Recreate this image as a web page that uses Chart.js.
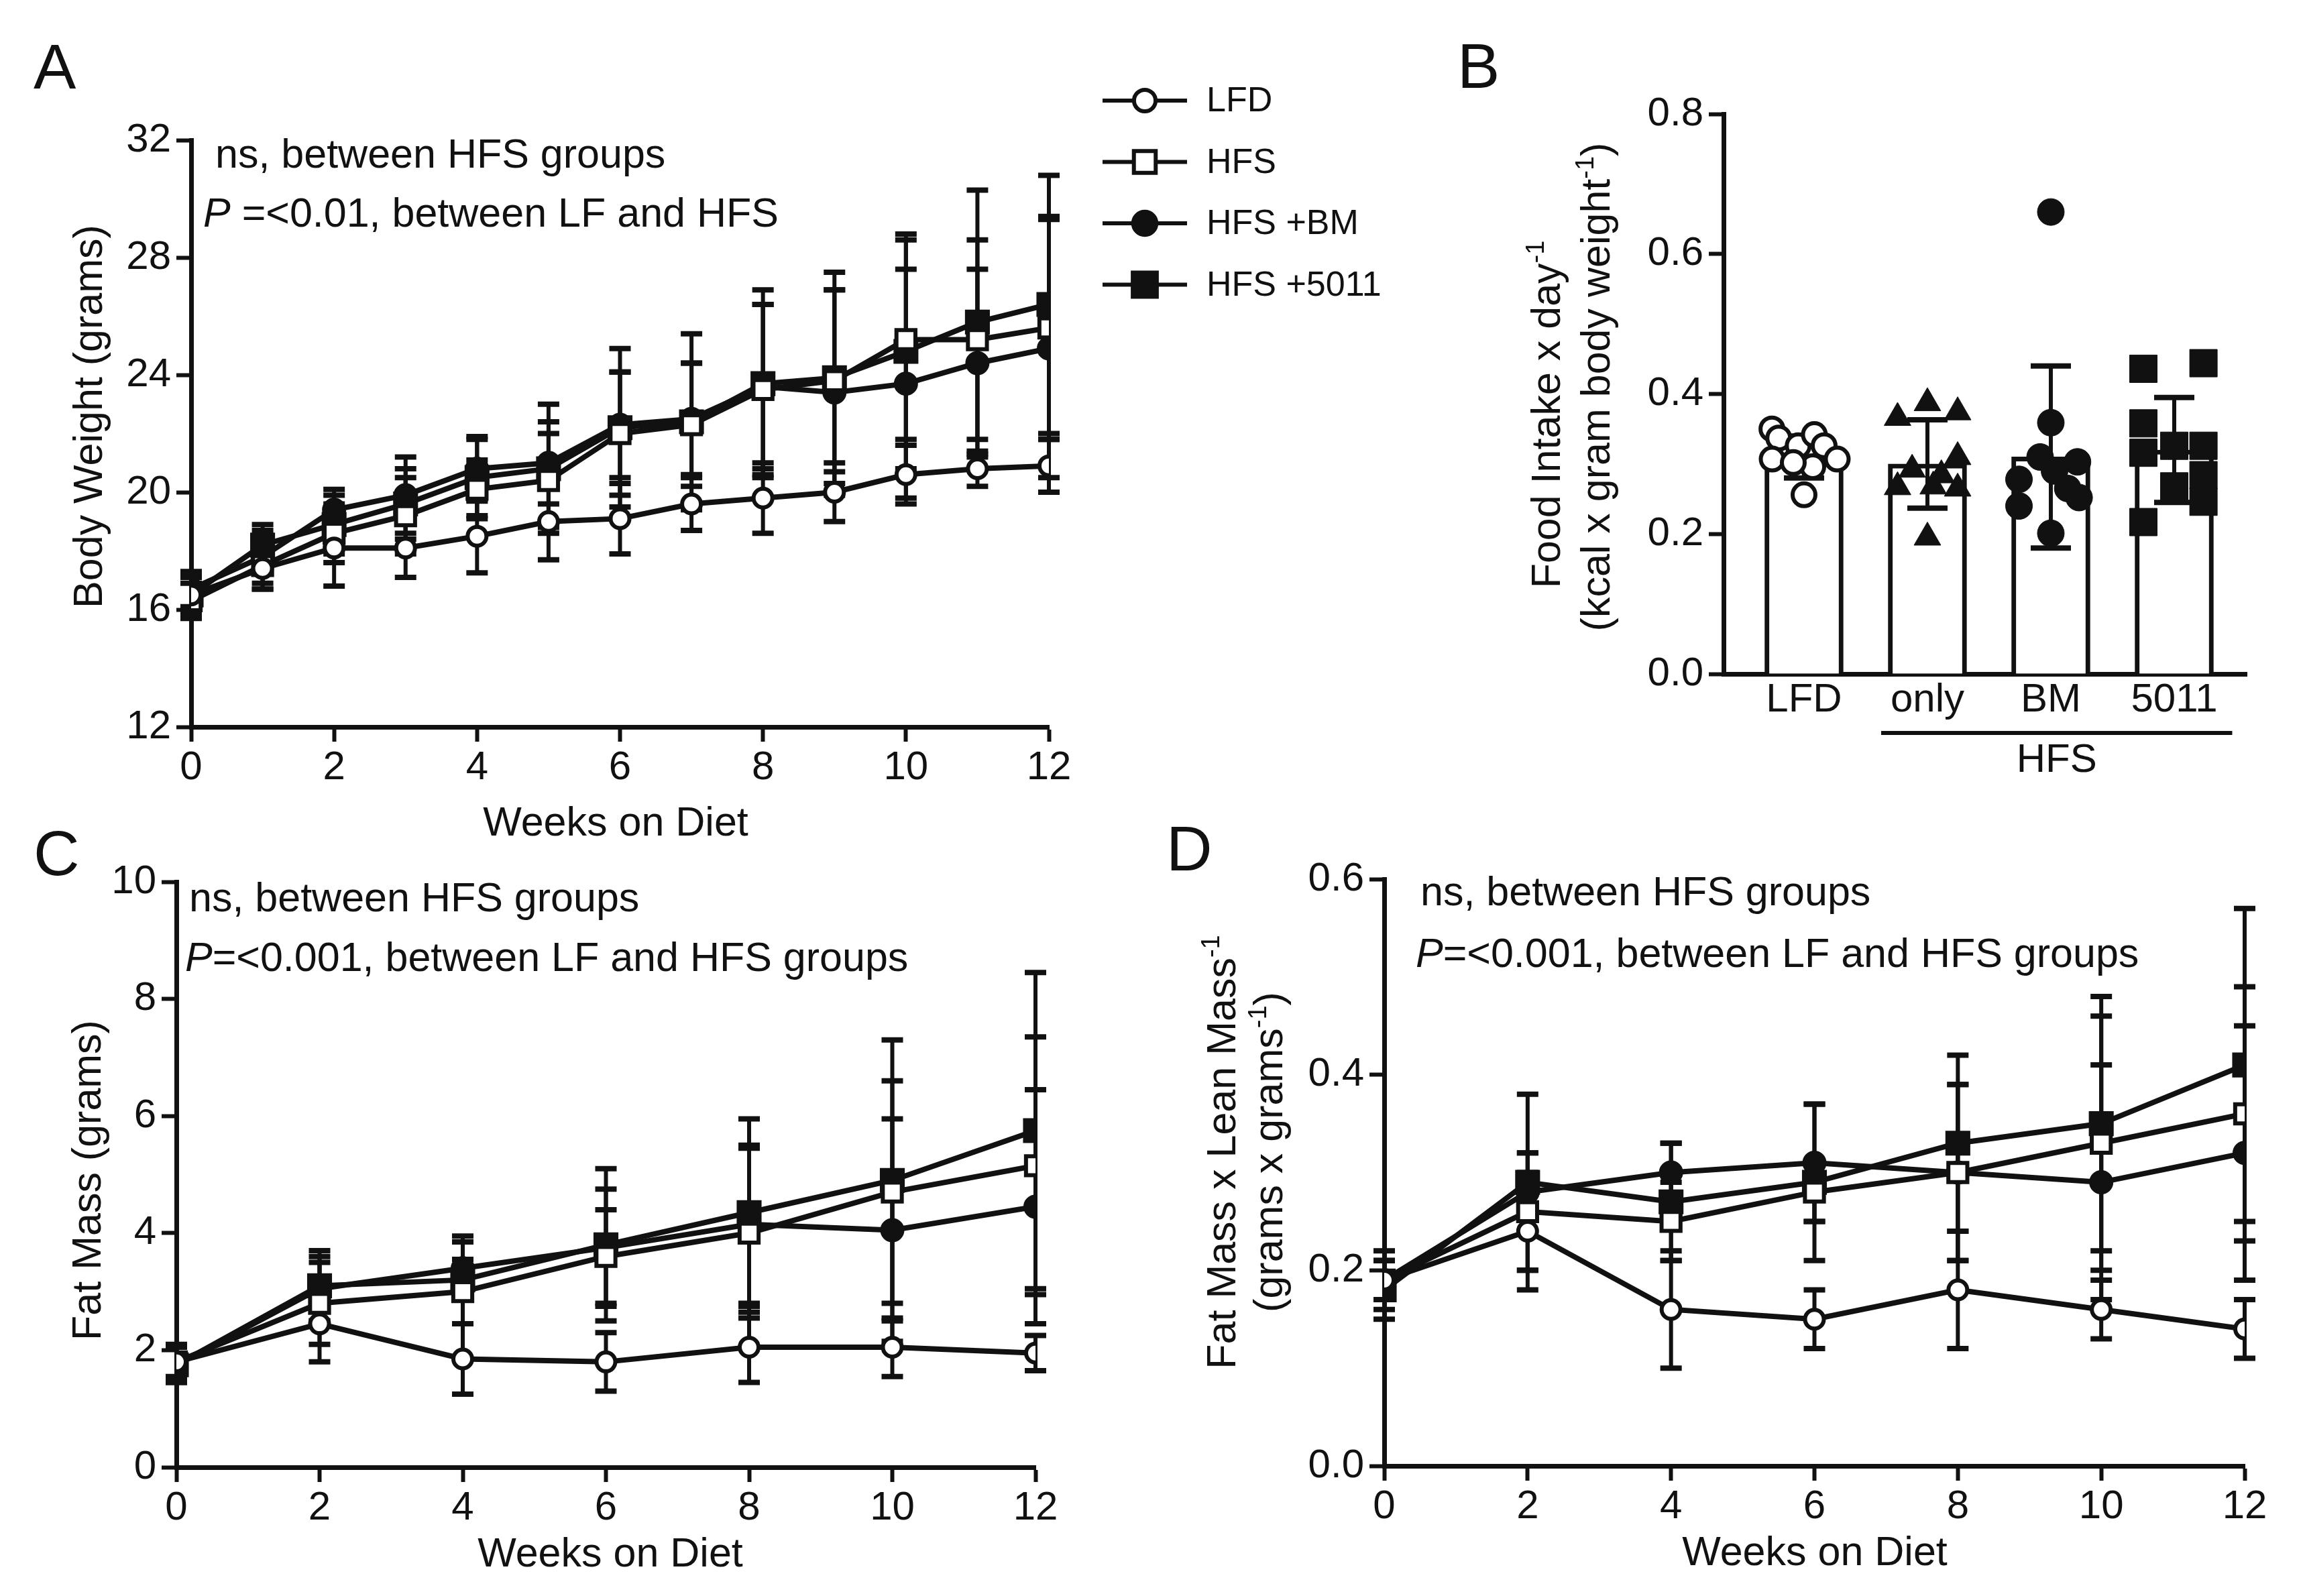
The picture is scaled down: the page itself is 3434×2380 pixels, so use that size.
<!DOCTYPE html>
<html>
<head>
<meta charset="utf-8">
<script src="https://cdn.jsdelivr.net/npm/chart.js@4.4.1/dist/chart.umd.min.js"></script>
<style>
  html, body { margin: 0; padding: 0; background: #fff; }
  #page { position: relative; width: 3434px; height: 2380px; overflow: hidden; background: #fff; }
  .panel { position: absolute; }
</style>
</head>
<body>
<div id="page">
  <div class="panel" style="left:0;top:0;width:2150px;height:1262px"><canvas id="chartA"></canvas></div>
  <div class="panel" style="left:2150px;top:0;width:1284px;height:1262px"><canvas id="chartB"></canvas></div>
  <div class="panel" style="left:0;top:1200px;width:1700px;height:1180px"><canvas id="chartC"></canvas></div>
  <div class="panel" style="left:1700px;top:1200px;width:1734px;height:1180px"><canvas id="chartD"></canvas></div>
</div>
<script>
const FONT = '"Liberation Sans", Arial, Helvetica, sans-serif';
const INK = '#111111';

// ===== DATA: panel A, body weight (grams) =====
const weeksA = [0, 1, 2, 3, 4, 5, 6, 7, 8, 9, 10, 11, 12];
const weightLfd     = [16.5, 17.4, 18.1, 18.1, 18.5, 19.0, 19.1, 19.6, 19.8, 20.0, 20.6, 20.8, 20.9];
const weightLfdSd   = [0.6, 0.7, 1.3, 1.0, 1.25, 1.3, 1.2, 0.9, 1.2, 1.0, 1.0, 0.6, 0.9];
const weightHfs     = [16.3, 17.5, 18.6, 19.2, 20.1, 20.4, 22.0, 22.3, 23.5, 23.8, 25.2, 25.2, 25.6];
const weightHfsSd   = [0.6, 0.8, 1.0, 1.3, 1.0, 1.6, 2.1, 2.1, 2.9, 3.1, 3.4, 3.4, 3.8];
const weightBm      = [16.7, 17.8, 19.4, 19.9, 20.8, 21.0, 22.3, 22.5, 23.6, 23.4, 23.7, 24.4, 24.9];
const weightBmSd    = [0.6, 0.9, 0.7, 1.3, 1.1, 1.4, 1.8, 1.9, 2.8, 3.5, 3.9, 3.2, 4.4];
const weight5011    = [16.5, 18.2, 18.9, 19.6, 20.5, 20.8, 22.2, 22.4, 23.7, 23.9, 24.8, 25.8, 26.4];
const weight5011Sd  = [0.7, 0.7, 1.0, 1.2, 1.3, 2.2, 2.7, 3.0, 3.2, 3.6, 4.0, 4.5, 4.4];
const weekTicksA = [0, 2, 4, 6, 8, 10, 12];
const weightTicks = [12, 16, 20, 24, 28, 32];

// ===== DATA: panel B, food intake =====
const intakeGroups = ['LFD', 'only', 'BM', '5011'];
const intakeMean = [0.31, 0.30, 0.31, 0.32];
const intakeSd   = [0.03, 0.063, 0.13, 0.075];
const intakeLfd     = [0.350, 0.337, 0.326, 0.342, 0.326, 0.307, 0.307, 0.296, 0.302, 0.256];
const intakeLfdX    = [-0.26, -0.205, -0.047, 0.084, 0.163, -0.258, 0.269, 0.071, -0.087, 0];
const intakeOnly    = [0.366, 0.387, 0.374, 0.310, 0.267, 0.292, 0.268, 0.265, 0.195, 0.284];
const intakeOnlyX   = [-0.242, 0, 0.245, 0.245, -0.242, -0.124, 0.047, 0.245, 0, 0.113];
const intakeBm      = [0.359, 0.310, 0.303, 0.278, 0.265, 0.240, 0.252, 0.201, 0.290, 0.660];
const intakeBmX     = [0, -0.087, 0.216, -0.258, 0.137, -0.258, 0.229, 0, 0.03, 0];
const intake5011    = [0.436, 0.444, 0.358, 0.316, 0.326, 0.326, 0.284, 0.268, 0.246, 0.217];
const intake5011X   = [-0.25, 0.237, -0.25, -0.25, 0, 0.237, 0.237, 0, 0.237, -0.25];
const intakeTicks = [0, 0.2, 0.4, 0.6, 0.8];

// ===== DATA: panels C and D =====
const weeksCD = [0, 2, 4, 6, 8, 10, 12];
const fatLfd    = [1.8, 2.45, 1.85, 1.8, 2.05, 2.05, 1.95];
const fatLfdSd  = [0.3, 0.65, 0.6, 0.5, 0.6, 0.5, 0.3];
const fatHfs    = [1.8, 2.8, 3.0, 3.6, 4.0, 4.7, 5.15];
const fatHfsSd  = [0.25, 0.7, 0.55, 0.8, 1.45, 1.9, 2.2];
const fatBm     = [1.75, 3.05, 3.4, 3.75, 4.15, 4.05, 4.45];
const fatBmSd   = [0.3, 0.55, 0.45, 1.0, 1.35, 1.9, 2.0];
const fat5011   = [1.75, 3.1, 3.2, 3.8, 4.35, 4.9, 5.75];
const fat5011Sd = [0.3, 0.6, 0.75, 1.3, 1.6, 2.4, 2.7];
const fatTicks = [0, 2, 4, 6, 8, 10];

const ratioLfd    = [0.19, 0.24, 0.16, 0.15, 0.18, 0.16, 0.14];
const ratioLfdSd  = [0.02, 0.06, 0.06, 0.03, 0.06, 0.03, 0.03];
const ratioHfs    = [0.19, 0.26, 0.25, 0.28, 0.30, 0.33, 0.36];
const ratioHfsSd  = [0.02, 0.06, 0.04, 0.03, 0.09, 0.13, 0.13];
const ratioBm     = [0.19, 0.28, 0.30, 0.31, 0.30, 0.29, 0.32];
const ratioBmSd   = [0.03, 0.04, 0.03, 0.06, 0.09, 0.12, 0.13];
const ratio5011   = [0.18, 0.29, 0.27, 0.29, 0.33, 0.35, 0.41];
const ratio5011Sd = [0.03, 0.09, 0.06, 0.08, 0.09, 0.13, 0.16];
const ratioTicks = [0, 0.2, 0.4, 0.6];

const groupLabels = ['LFD', 'HFS', 'HFS +BM', 'HFS +5011'];
const groupMarks = [
    { pointStyle: 'circle', fill: '#ffffff', radius: 14 },
    { pointStyle: 'rect', fill: '#ffffff', radius: 20 },
    { pointStyle: 'circle', fill: INK, radius: 15 },
    { pointStyle: 'rect', fill: INK, radius: 22 }
];

Chart.defaults.font.family = FONT;
Chart.defaults.color = INK;

// ===== helpers =====
function T(t, extra) { return Object.assign({ t: t }, extra || {}); }

function drawParts(ctx, parts, size, align) {
    const fontOf = p => (p.italic ? 'italic ' : '') + (p.sup ? Math.round(size * 0.62) : size) + 'px ' + FONT;
    let width = 0;
    parts.forEach(p => { ctx.font = fontOf(p); width += ctx.measureText(p.t).width; });
    let x = align === 'center' ? -width / 2 : 0;
    parts.forEach(p => {
        ctx.font = fontOf(p);
        ctx.fillText(p.t, x, p.sup ? -size * 0.4 : 0);
        x += ctx.measureText(p.t).width;
    });
}

function drawMarker(ctx, style, r, x, y) {
    ctx.beginPath();
    if (style === 'rect') {
        const s = Math.SQRT1_2 * r;
        ctx.rect(x - s, y - s, 2 * s, 2 * s);
    } else {
        ctx.arc(x, y, r, 0, Math.PI * 2);
    }
    ctx.fill();
    ctx.stroke();
}

function axis(min, max, tickValues, fitSize, isX, fmt, tickMarks) {
    return {
        type: 'linear',
        min: min,
        max: max,
        offset: false,
        afterBuildTicks: s => { s.ticks = tickValues.map(v => ({ value: v })); },
        afterFit: s => { if (isX) s.height = fitSize; else s.width = fitSize; },
        border: { display: true, color: INK, width: 7 },
        grid: {
            display: true, drawOnChartArea: false, offset: false,
            drawTicks: tickMarks !== false, tickLength: 22, tickWidth: 6, tickColor: INK
        },
        ticks: {
            font: { size: 60, family: FONT }, color: INK,
            padding: isX ? 3 : 8, maxRotation: 0, autoSkip: false,
            callback: fmt || (v => v)
        }
    };
}

function lineSeries(weeks, values, errors) {
    return values.map((vals, i) => ({
        label: groupLabels[i],
        data: weeks.map((w, k) => ({ x: w, y: vals[k] })),
        errors: errors[i],
        borderColor: INK,
        borderWidth: 8,
        tension: 0,
        fill: false,
        pointStyle: groupMarks[i].pointStyle,
        pointRadius: groupMarks[i].radius,
        pointBackgroundColor: groupMarks[i].fill,
        pointBorderColor: INK,
        pointBorderWidth: 6
    }));
}

function strokeErrors(chart, meta, width, cap) {
    const ds = chart.data.datasets[meta.index];
    if (!ds.errors) return;
    const ys = chart.scales.y;
    const ctx = chart.ctx;
    ctx.save();
    ctx.strokeStyle = INK;
    meta.data.forEach((el, i) => {
        const v = ds.data[i].y, e = ds.errors[i];
        const top = ys.getPixelForValue(v + e), bot = ys.getPixelForValue(v - e);
        ctx.lineWidth = width;
        ctx.beginPath();
        ctx.moveTo(el.x, top); ctx.lineTo(el.x, bot);
        ctx.stroke();
        ctx.lineWidth = width + 2;
        ctx.beginPath();
        ctx.moveTo(el.x - cap, top); ctx.lineTo(el.x + cap, top);
        ctx.moveTo(el.x - cap, bot); ctx.lineTo(el.x + cap, bot);
        ctx.stroke();
    });
    ctx.restore();
}

// error bars under the line markers
const lineErrorPlugin = {
    id: 'lineErrors',
    beforeDatasetsDraw(chart) {
        chart.getSortedVisibleDatasetMetas().forEach(meta => strokeErrors(chart, meta, 6, 16));
    }
};

// error bars right after the bars, before the dots
const barErrorPlugin = {
    id: 'barErrors',
    afterDatasetDraw(chart, args) {
        if (args.meta.type === 'bar') strokeErrors(chart, args.meta, 6, 30);
    }
};

function textPlugin(items) {
    return {
        id: 'panelText',
        afterDraw(chart) {
            const ctx = chart.ctx;
            items.forEach(it => {
                ctx.save();
                ctx.fillStyle = INK;
                ctx.textAlign = 'left';
                ctx.textBaseline = 'alphabetic';
                ctx.translate(it.x, it.y);
                if (it.rotate) ctx.rotate(-Math.PI / 2);
                drawParts(ctx, it.parts, it.size, it.align || 'left');
                ctx.restore();
            });
        }
    };
}

const sideLegendPlugin = {
    id: 'sideLegend',
    afterDraw(chart) {
        const ctx = chart.ctx;
        const x0 = 1644, lineLen = 126, y0 = 150, step = 91.5;
        chart.data.datasets.forEach((ds, i) => {
            const y = y0 + i * step;
            ctx.save();
            ctx.strokeStyle = INK;
            ctx.lineWidth = 6;
            ctx.beginPath();
            ctx.moveTo(x0, y); ctx.lineTo(x0 + lineLen, y);
            ctx.stroke();
            ctx.fillStyle = ds.pointBackgroundColor;
            ctx.lineWidth = 6;
            drawMarker(ctx, ds.pointStyle, ds.pointRadius * 1.15, x0 + lineLen / 2, y);
            ctx.fillStyle = INK;
            ctx.font = '52px ' + FONT;
            ctx.textAlign = 'left';
            ctx.textBaseline = 'middle';
            ctx.fillText(ds.label, x0 + lineLen + 29, y + 2);
            ctx.restore();
        });
    }
};

const hfsBracketPlugin = {
    id: 'hfsBracket',
    afterDraw(chart) {
        const ctx = chart.ctx, xs = chart.scales.x;
        const x1 = xs.getPixelForValue(1 - 0.375);
        const x2 = xs.getPixelForValue(3 + 0.47);
        const y = chart.chartArea.bottom + 88;
        ctx.save();
        ctx.strokeStyle = INK;
        ctx.lineWidth = 6;
        ctx.beginPath(); ctx.moveTo(x1, y); ctx.lineTo(x2, y); ctx.stroke();
        ctx.fillStyle = INK;
        ctx.font = '60px ' + FONT;
        ctx.textAlign = 'center';
        ctx.textBaseline = 'alphabetic';
        ctx.fillText('HFS', (x1 + x2) / 2, y + 58);
        ctx.restore();
    }
};

const baseOptions = (padding, scales) => ({
    responsive: true,
    maintainAspectRatio: false,
    animation: false,
    events: [],
    layout: { padding: padding },
    plugins: { legend: { display: false }, tooltip: { enabled: false }, title: { display: false } },
    scales: scales
});

// ===== CHART A: body weight =====
new Chart(document.getElementById('chartA'), {
    type: 'line',
    data: {
        datasets: lineSeries(weeksA,
            [weightLfd, weightHfs, weightBm, weight5011],
            [weightLfdSd, weightHfsSd, weightBmSd, weight5011Sd])
    },
    options: baseOptions({ left: 0, top: 209, right: 586, bottom: 0 }, {
        x: axis(0, 12, weekTicksA, 178, true),
        y: axis(12, 32, weightTicks, 285, false)
    }),
    plugins: [lineErrorPlugin, sideLegendPlugin, textPlugin([
        { parts: [T('A')], x: 50, y: 132, size: 95 },
        { parts: [T('ns, between HFS groups')], x: 321, y: 250, size: 61 },
        { parts: [T('P', { italic: true }), T(' =<0.01, between LF and HFS')], x: 303, y: 338, size: 61 },
        { parts: [T('Body Weight (grams)')], x: 152, y: 621, size: 61, rotate: true, align: 'center' },
        { parts: [T('Weeks on Diet')], x: 918, y: 1246, size: 61, align: 'center' }
    ])]
});

// ===== CHART B: food intake =====
const dotSets = [
    { values: intakeLfd, xs: intakeLfdX, style: 'circle', fill: '#ffffff', radius: 17, bw: 6 },
    { values: intakeOnly, xs: intakeOnlyX, style: 'triangle', fill: INK, radius: 23, bw: 1 },
    { values: intakeBm, xs: intakeBmX, style: 'circle', fill: INK, radius: 20, bw: 1 },
    { values: intake5011, xs: intake5011X, style: 'rect', fill: INK, radius: 29, bw: 1 }
];

new Chart(document.getElementById('chartB'), {
    type: 'bar',
    data: {
        datasets: dotSets.map((d, g) => ({
            type: 'scatter',
            label: intakeGroups[g],
            data: d.values.map((v, k) => ({ x: g + d.xs[k], y: v })),
            showLine: false,
            pointStyle: d.style,
            pointRadius: d.radius,
            pointBackgroundColor: d.fill,
            pointBorderColor: INK,
            pointBorderWidth: d.bw,
            order: 0
        })).concat([{
            type: 'bar',
            label: 'mean',
            data: intakeGroups.map((g, i) => ({ x: i, y: intakeMean[i] })),
            errors: intakeSd,
            backgroundColor: '#ffffff',
            borderColor: INK,
            borderWidth: 7,
            barThickness: 117,
            order: 1
        }])
    },
    options: baseOptions({ left: 0, top: 170, right: 84, bottom: 0 }, {
        x: axis(-0.652, 3.587, [0, 1, 2, 3], 257, true, v => intakeGroups[v], false),
        y: axis(0, 0.8, intakeTicks, 420, false, v => v.toFixed(1))
    }),
    plugins: [barErrorPlugin, hfsBracketPlugin, textPlugin([
        { parts: [T('B')], x: 23, y: 131, size: 95 },
        { parts: [T('Food Intake x day'), T('-1', { sup: true })], x: 176, y: 618, size: 61, rotate: true, align: 'center' },
        { parts: [T('(kcal x gram body weight'), T('-1', { sup: true }), T(')')], x: 250, y: 577, size: 61, rotate: true, align: 'center' }
    ])]
});

// ===== CHART C: fat mass =====
new Chart(document.getElementById('chartC'), {
    type: 'line',
    data: {
        datasets: lineSeries(weeksCD,
            [fatLfd, fatHfs, fatBm, fat5011],
            [fatLfdSd, fatHfsSd, fatBmSd, fat5011Sd])
    },
    options: baseOptions({ left: 0, top: 115, right: 156, bottom: 0 }, {
        x: axis(0, 12, weeksCD, 192, true),
        y: axis(0, 10, fatTicks, 263, false)
    }),
    plugins: [lineErrorPlugin, textPlugin([
        { parts: [T('C')], x: 50, y: 105, size: 95 },
        { parts: [T('ns, between HFS groups')], x: 282, y: 159, size: 61 },
        { parts: [T('P', { italic: true }), T('=<0.001, between LF and HFS groups')], x: 276, y: 248, size: 61 },
        { parts: [T('Fat Mass (grams)')], x: 150, y: 560, size: 61, rotate: true, align: 'center' },
        { parts: [T('Weeks on Diet')], x: 910, y: 1136, size: 61, align: 'center' }
    ])]
});

// ===== CHART D: fat / lean ratio =====
new Chart(document.getElementById('chartD'), {
    type: 'line',
    data: {
        datasets: lineSeries(weeksCD,
            [ratioLfd, ratioHfs, ratioBm, ratio5011],
            [ratioLfdSd, ratioHfsSd, ratioBmSd, ratio5011Sd])
    },
    options: baseOptions({ left: 0, top: 111, right: 87, bottom: 0 }, {
        x: axis(0, 12, weeksCD, 194, true),
        y: axis(0, 0.6, ratioTicks, 364, false, v => v.toFixed(1))
    }),
    plugins: [lineErrorPlugin, textPlugin([
        { parts: [T('D')], x: 39, y: 98, size: 95 },
        { parts: [T('ns, between HFS groups')], x: 418, y: 150, size: 61 },
        { parts: [T('P', { italic: true }), T('=<0.001, between LF and HFS groups')], x: 411, y: 242, size: 61 },
        { parts: [T('Fat Mass x Lean Mass'), T('-1', { sup: true })], x: 142, y: 518, size: 61, rotate: true, align: 'center' },
        { parts: [T('(grams x grams'), T('-1', { sup: true }), T(')')], x: 212, y: 518, size: 61, rotate: true, align: 'center' },
        { parts: [T('Weeks on Diet')], x: 1006, y: 1134, size: 61, align: 'center' }
    ])]
});
</script>
</body>
</html>
